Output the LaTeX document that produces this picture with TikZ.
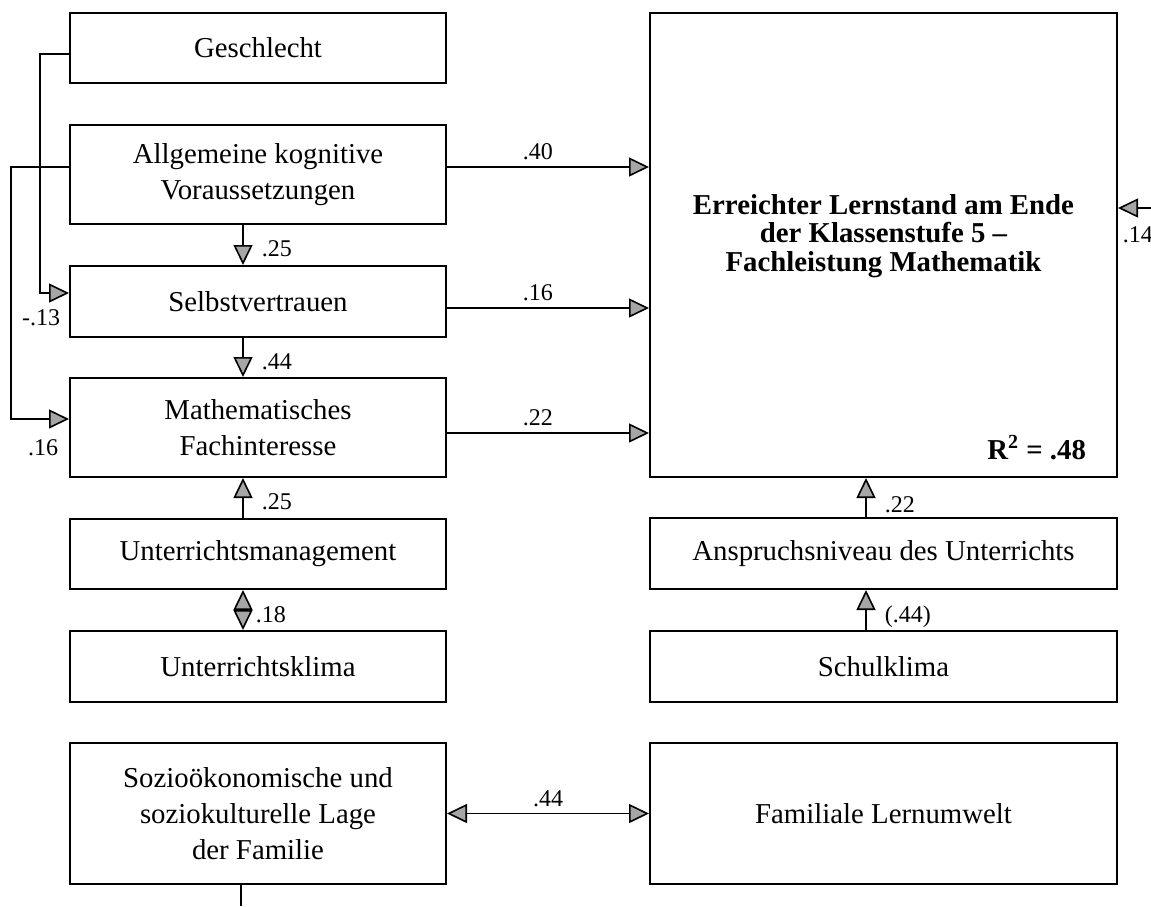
\documentclass[tikz,border=0pt]{standalone}
\usepackage{fontspec}
\setmainfont{Liberation Serif}
\usetikzlibrary{positioning, arrows.meta, calc}

\begin{document}
\begin{tikzpicture}[x=0.5pt, y=-0.5pt,
        box/.style={draw, line width=1pt, align=center, inner sep=0pt, minimum width=188pt, font=\fontsize{14.4}{18}\selectfont},
        wbox/.style={box, minimum width=233.5pt},
        rel/.style={line width=0.8pt, -{Triangle[length=10pt, width=9.5pt, fill=gray!70]}},
        both/.style={line width=0.8pt, {Triangle[length=10pt, width=9.5pt, fill=gray!70]}-{Triangle[length=10pt, width=9.5pt, fill=gray!70]}},
        coef/.style={font=\fontsize{12}{14}\selectfont, inner sep=1pt}
    ]
        \useasboundingbox (0,0) rectangle (1151,906);

        % Schuelermerkmale und Unterricht (links)
        \node[box, minimum height=35pt] (gesch) at (258,48) {Geschlecht};
        \node[box, minimum height=49.5pt] (allg) at (258,174.5) {Allgemeine kognitive\\Voraussetzungen};
        \node[box, minimum height=35.5pt] (selbst) at (258,301.5) {Selbstvertrauen};
        \node[box, minimum height=49.5pt] (math) at (258,427.5) {Mathematisches\\Fachinteresse};
        \node[box, minimum height=35pt] (umgmt) at (258,554) {Unterrichtsmanagement};
        \node[box, minimum height=35.5pt] (uklima) at (258,666.5) {Unterrichtsklima};
        \node[box, minimum height=70.5pt] (sozio) at (258,813.5) {Sozioökonomische und\\soziokulturelle Lage\\der Familie};

        % Kriterium und Schulebene (rechts)
        \node[wbox, minimum height=232pt, font=\fontsize{14.4}{14}\selectfont\bfseries,
            label={[anchor=base east, xshift=-12.5pt, yshift=9.5pt, font=\fontsize{14.4}{14}\selectfont\bfseries]south east:R\textsuperscript{2} = .48}]
            (ziel) at (883.5,245) {\raisebox{4pt}[\height][\depth]{\begin{tabular}{@{}c@{}}Erreichter Lernstand am Ende\\der Klassenstufe 5 --\\Fachleistung Mathematik\end{tabular}}};
        \node[wbox, minimum height=35.5pt] (anspr) at (883.5,553.5) {Anspruchsniveau des Unterrichts};
        \node[wbox, minimum height=35.5pt] (schul) at (883.5,666.5) {Schulklima};
        \node[wbox, minimum height=70.5pt] (fam) at (883.5,813.5) {Familiale Lernumwelt};

        \coordinate (rechts) at (1151,208);
        \coordinate (unten) at (241,906);

        % Pfade
        \draw[rel] ([yshift=-3pt]gesch.west) -- ++(-29,0) |- ([yshift=4.25pt]selbst.west)
            node[coef, at end, anchor=north east, xshift=-3pt, yshift=-7pt] {-.13};
        \draw[rel] ([yshift=3.75pt]allg.west) -- ++(-58,0) |- ([yshift=4.25pt]math.west)
            node[coef, at end, anchor=north east, xshift=-4pt, yshift=-9pt] {.16};
        \draw[rel] ([yshift=3.75pt]allg.east) -- ([yshift=3.75pt]allg.east -| ziel.west) node[coef, pos=0.45, above=2pt] {.40};
        \draw[rel] ([yshift=-3.25pt]selbst.east) -- ([yshift=-3.25pt]selbst.east -| ziel.west) node[coef, pos=0.45, above=2pt] {.16};
        \draw[rel] ([yshift=-2.75pt]math.east) -- ([yshift=-2.75pt]math.east -| ziel.west) node[coef, pos=0.45, above=2pt] {.22};
        \draw[rel] ([xshift=-7.5pt]allg.south) -- ([xshift=-7.5pt]selbst.north) node[coef, pos=0.6, right=8pt] {.25};
        \draw[rel] ([xshift=-7.5pt]selbst.south) -- ([xshift=-7.5pt]math.north) node[coef, pos=0.62, right=8pt] {.44};
        \draw[rel] ([xshift=-7.5pt]umgmt.north) -- ([xshift=-7.5pt]math.south) node[coef, pos=0.4, right=8pt] {.25};
        \draw[both] ([xshift=-7.5pt]umgmt.south) -- ([xshift=-7.5pt]uklima.north) node[coef, pos=0.62, right=5pt] {.18};
        \draw[rel] ([xshift=-8.75pt]anspr.north) -- ([xshift=-8.75pt]ziel.south) node[coef, pos=0.32, right=8pt] {.22};
        \draw[rel] ([xshift=-8.75pt]schul.north) -- ([xshift=-8.75pt]anspr.south) node[coef, pos=0.33, right=8pt] {(.44)};
        \draw[both] (sozio.east) -- (fam.west) node[coef, midway, above=2pt] {.44};
        \draw[rel] (rechts) -- (rechts -| ziel.east) node[coef, at end, anchor=north west, xshift=1pt, yshift=-8pt] {.14};
        \draw[line width=0.8pt] (sozio.south -| unten) -- (unten);

    \end{tikzpicture}
\end{document}
